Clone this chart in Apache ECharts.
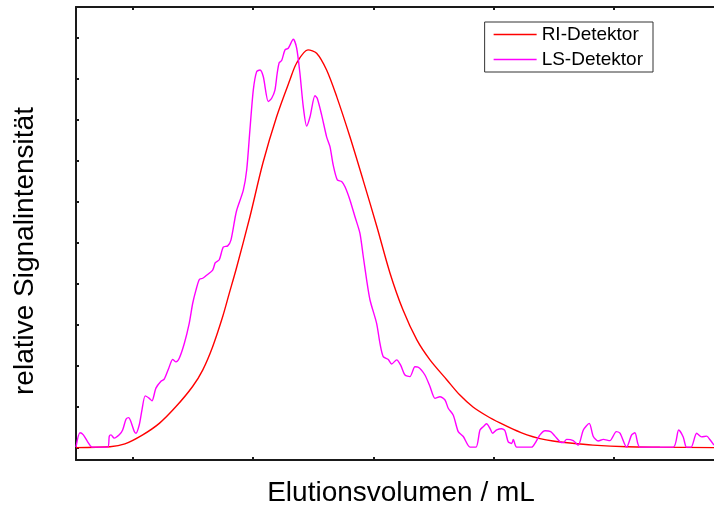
<!DOCTYPE html>
<html>
<head>
<meta charset="utf-8">
<script src="https://cdn.jsdelivr.net/npm/echarts@6/dist/echarts.min.js"></script>
<style>
html,body{margin:0;padding:0;background:#fff;}
#chart{width:714px;height:506px;}
</style>
</head>
<body>
<div id="chart"></div>
<script>
// Axis tick values (no labels shown in the original)
var xTicks = [1, 2, 3, 4, 5];
var yTicks = [0, 1, 2, 3, 4, 5, 6, 7, 8, 9, 10];

// RI-Detektor
var riX = [0.526, 0.809, 0.933, 1.081, 1.219, 1.358, 1.496, 1.580, 1.663, 1.746, 1.801, 1.861, 1.973, 2.081, 2.195, 2.306, 2.362, 2.456, 2.528, 2.611, 2.695, 2.805, 2.914, 3.030, 3.138, 3.246, 3.363, 3.471, 3.612, 3.720, 3.829, 3.945, 4.053, 4.161, 4.278, 4.386, 4.494, 4.636, 4.827, 5.110, 5.384, 5.834];
var riY = [0.01, 0.03, 0.10, 0.32, 0.60, 1.01, 1.50, 1.90, 2.47, 3.20, 3.77, 4.39, 5.64, 6.95, 8.08, 8.98, 9.39, 9.71, 9.63, 9.22, 8.57, 7.59, 6.54, 5.39, 4.27, 3.37, 2.63, 2.15, 1.66, 1.29, 1.00, 0.78, 0.61, 0.46, 0.32, 0.23, 0.17, 0.12, 0.07, 0.03, 0.02, 0.01];

// LS-Detektor
var lsX = [0.526, 0.559, 0.587, 0.623, 0.659, 0.790, 0.803, 0.817, 0.844, 0.886, 0.914, 0.942, 0.964, 0.983, 1.011, 1.025, 1.052, 1.075, 1.102, 1.136, 1.158, 1.191, 1.233, 1.260, 1.297, 1.330, 1.358, 1.385, 1.427, 1.468, 1.497, 1.524, 1.552, 1.580, 1.607, 1.663, 1.685, 1.718, 1.751, 1.788, 1.815, 1.851, 1.863, 1.918, 1.946, 1.973, 2.001, 2.029, 2.057, 2.084, 2.126, 2.154, 2.181, 2.200, 2.217, 2.237, 2.265, 2.292, 2.334, 2.362, 2.389, 2.417, 2.445, 2.473, 2.514, 2.533, 2.570, 2.611, 2.639, 2.666, 2.700, 2.736, 2.764, 2.805, 2.847, 2.888, 2.916, 2.944, 2.972, 3.027, 3.055, 3.082, 3.124, 3.152, 3.194, 3.227, 3.263, 3.304, 3.346, 3.374, 3.429, 3.471, 3.513, 3.554, 3.596, 3.623, 3.665, 3.706, 3.748, 3.804, 3.854, 3.887, 3.914, 3.942, 3.970, 3.992, 4.026, 4.067, 4.095, 4.122, 4.151, 4.164, 4.192, 4.317, 4.344, 4.386, 4.428, 4.475, 4.511, 4.553, 4.580, 4.608, 4.663, 4.705, 4.747, 4.796, 4.830, 4.871, 4.913, 4.968, 5.021, 5.052, 5.107, 5.149, 5.176, 5.218, 5.495, 5.540, 5.578, 5.605, 5.643, 5.690, 5.731, 5.773, 5.801, 5.834];
var lsY = [0.02, 0.37, 0.32, 0.15, 0.02, 0.02, 0.29, 0.32, 0.24, 0.32, 0.44, 0.70, 0.74, 0.64, 0.40, 0.36, 0.56, 0.93, 1.27, 1.21, 1.15, 1.46, 1.63, 1.68, 1.94, 2.16, 2.10, 2.19, 2.55, 3.04, 3.53, 3.85, 4.11, 4.14, 4.20, 4.34, 4.52, 4.59, 4.90, 4.93, 5.07, 5.64, 5.80, 6.29, 6.78, 7.76, 8.73, 9.18, 9.22, 9.06, 8.45, 8.53, 8.73, 9.14, 9.40, 9.45, 9.71, 9.75, 9.97, 9.75, 9.14, 8.32, 7.85, 8.08, 8.59, 8.53, 8.12, 7.59, 7.35, 6.90, 6.54, 6.50, 6.37, 6.05, 5.64, 5.24, 4.67, 4.10, 3.61, 3.04, 2.55, 2.23, 2.16, 2.05, 2.15, 2.02, 1.78, 1.74, 1.98, 1.97, 1.78, 1.50, 1.21, 1.25, 1.17, 0.97, 0.80, 0.40, 0.28, 0.02, 0.02, 0.44, 0.52, 0.59, 0.48, 0.36, 0.44, 0.47, 0.42, 0.15, 0.11, 0.21, 0.02, 0.02, 0.11, 0.32, 0.42, 0.40, 0.29, 0.15, 0.13, 0.21, 0.18, 0.07, 0.44, 0.60, 0.28, 0.17, 0.21, 0.18, 0.40, 0.36, 0.02, 0.32, 0.37, 0.02, 0.02, 0.44, 0.27, 0.02, 0.02, 0.36, 0.27, 0.29, 0.20, 0.07];

function zip(xs, ys) {
  var out = [];
  for (var i = 0; i < xs.length; i++) out.push([xs[i], ys[i]]);
  return out;
}

var axisColor = '#1a1a1a';
var font = 'Liberation Sans, Arial, sans-serif';
var chart = echarts.init(document.getElementById('chart'), null, {renderer: 'canvas'});
chart.setOption({
  animation: false,
  backgroundColor: '#ffffff',
  textStyle: {fontFamily: font},
  grid: {left: 76, top: 7, right: 0, bottom: 46, containLabel: false},
  legend: {
    right: 61, top: 22,
    orient: 'vertical',
    backgroundColor: '#ffffff',
    borderColor: '#333333',
    borderWidth: 1,
    borderRadius: 0,
    padding: [3, 10, 3, 9],
    itemGap: 6,
    itemWidth: 43,
    itemHeight: 1.5,
    textStyle: {fontSize: 19, color: '#000', fontFamily: font},
    data: [
      {name: 'RI-Detektor', icon: 'rect'},
      {name: 'LS-Detektor', icon: 'rect'}
    ]
  },
  xAxis: [{
    type: 'value', position: 'bottom',
    min: 0.526, max: 5.834,
    axisLine: {show: true, onZero: false, lineStyle: {color: axisColor, width: 2}},
    axisTick: {show: true, inside: true, length: 3, customValues: xTicks, lineStyle: {color: axisColor, width: 2}},
    axisLabel: {show: false},
    splitLine: {show: false}
  }, {
    type: 'value', position: 'top',
    min: 0.526, max: 5.834,
    axisLine: {show: true, onZero: false, lineStyle: {color: axisColor, width: 2}},
    axisTick: {show: true, inside: true, length: 3, customValues: xTicks, lineStyle: {color: axisColor, width: 2}},
    axisLabel: {show: false},
    splitLine: {show: false}
  }],
  yAxis: {
    type: 'value',
    min: -0.293, max: 10.756,
    axisLine: {show: true, onZero: false, lineStyle: {color: axisColor, width: 2}},
    axisTick: {show: true, inside: true, length: 3, customValues: yTicks, lineStyle: {color: axisColor, width: 2}},
    axisLabel: {show: false},
    splitLine: {show: false}
  },
  graphic: [{
    type: 'text', x: 401, y: 493,
    style: {text: 'Elutionsvolumen / mL', align: 'center', verticalAlign: 'middle', fontSize: 28, fill: '#000', fontFamily: font}
  }, {
    type: 'text', rotation: Math.PI / 2, x: 25, y: 251,
    style: {text: 'relative Signalintensität', align: 'center', verticalAlign: 'middle', fontSize: 28, fill: '#000', fontFamily: font}
  }],
  series: [{
    name: 'RI-Detektor', type: 'line', xAxisIndex: 0,
    data: zip(riX, riY), symbol: 'none', smooth: 0.3,
    lineStyle: {color: '#ff0000', width: 1.4},
    itemStyle: {color: '#ff0000'}
  }, {
    name: 'LS-Detektor', type: 'line', xAxisIndex: 0,
    data: zip(lsX, lsY), symbol: 'none', smooth: 0.25,
    lineStyle: {color: '#ff00ff', width: 1.4},
    itemStyle: {color: '#ff00ff'}
  }]
});
</script>
</body>
</html>
